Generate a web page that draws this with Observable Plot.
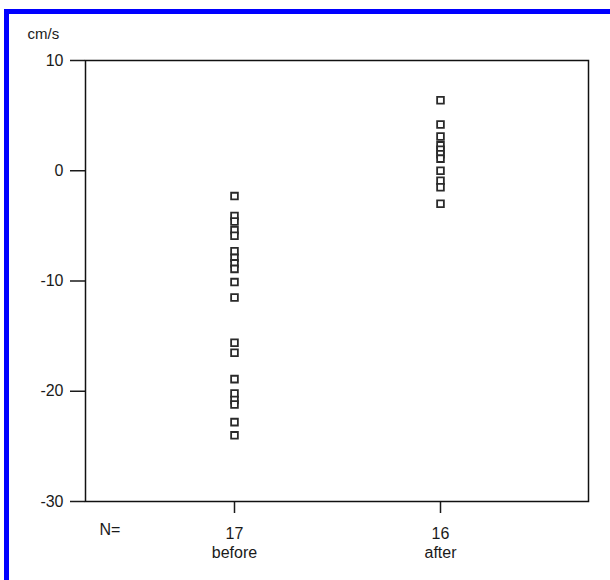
<!DOCTYPE html>
<html>
<head>
<meta charset="utf-8">
<script src="https://cdn.jsdelivr.net/npm/d3@7"></script>
<script src="https://cdn.jsdelivr.net/npm/@observablehq/plot@0.6"></script>
<style>
  html, body { margin: 0; padding: 0; background: #fff; overflow: hidden; }
  #wrap { position: relative; width: 610px; height: 580px; }
  #border { position: absolute; left: 4px; top: 9px; width: 700px; height: 700px;
            border: 5px solid #0000ff; box-sizing: border-box; }
  #chart { position: absolute; left: 0; top: 0; }
</style>
</head>
<body>
<div id="wrap"><div id="border"></div><div id="chart"></div></div>
<script>
const groups = ["before", "after"];
const counts = [17, 16];
const beforeValues = [-2.3, -4.1, -4.6, -5.4, -5.9, -7.3, -7.9, -8.4, -8.9, -10.1, -11.5, -15.6, -16.5, -18.9, -20.2, -20.8, -21.2, -22.8, -24.0];
const afterValues = [6.4, 4.2, 3.1, 2.3, 1.9, 1.5, 1.1, 0.0, -0.9, -1.5, -3.0];
const yTicks = [10, 0, -10, -20, -30];
const unitLabel = "cm/s";

const data = [
  ...beforeValues.map(v => ({group: "before", value: v})),
  ...afterValues.map(v => ({group: "after", value: v}))
];

const chart = Plot.plot({
  width: 610,
  height: 580,
  marginLeft: 85,
  marginRight: 22,
  marginTop: 60,
  marginBottom: 79,
  style: {fontFamily: "'Liberation Sans', Arial, sans-serif", fontSize: "16px", color: "#1a1a1a", background: "transparent"},
  x: {type: "point", domain: groups, padding: 0.72},
  y: {domain: [-30, 10]},
  marks: [
    Plot.axisY({ticks: yTicks, tickSize: 15, tickPadding: 7, strokeWidth: 1.5, label: null, fontSize: 16,
      tickFormat: d => String(d)}),
    Plot.axisX({tickSize: 12, tickPadding: 12, strokeWidth: 1.5, label: null, fontSize: 16, lineHeight: 1.2,
      tickFormat: d => counts[groups.indexOf(d)] + "\n" + d}),
    Plot.frame({stroke: "#111", strokeWidth: 1.5}),
    Plot.dot(data, {x: "group", y: "value", symbol: "square", r: 3.8, stroke: "#2a2a2a", strokeWidth: 1.8, fill: "white"}),
    Plot.text([unitLabel], {frameAnchor: "top-left", text: d => d, dx: -58, dy: -32, textAnchor: "start", fontSize: 15}),
    Plot.text(["N="], {frameAnchor: "bottom-left", text: d => d, dx: 14, dy: 33, textAnchor: "start", fontSize: 16})
  ]
});
document.getElementById("chart").appendChild(chart);
</script>
</body>
</html>
